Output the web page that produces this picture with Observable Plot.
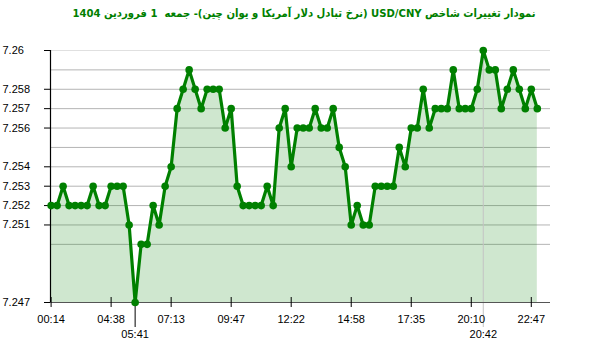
<!DOCTYPE html>
<html>
<head>
<meta charset="utf-8">
<script src="https://cdn.jsdelivr.net/npm/d3@7"></script>
<script src="https://cdn.jsdelivr.net/npm/@observablehq/plot@0.6"></script>
<style>
  html, body { margin: 0; padding: 0; background: #fff; }
  #title { height: 30px; line-height: 16px; padding-top: 7px; text-align: center; color: #008000; font: bold 11.2px "DejaVu Sans Condensed", "DejaVu Sans", sans-serif; direction: rtl; width: 600px; padding-left: 8px; box-sizing: border-box; white-space: pre; }
  #title span { line-height: 16px; }
  svg { display: block; }
</style>
</head>
<body>
<div id="title" dir="rtl">نمودار تغییرات شاخص USD/CNY (نرخ تبادل دلار آمریکا و یوان چین)- جمعه  1 فروردین 1404</div>
<div id="chart"></div>
<script>
// values, one per time step (equally spaced)
const values = [
  7.252, 7.252, 7.253, 7.252, 7.252, 7.252, 7.252, 7.253, 7.252, 7.252,
  7.253, 7.253, 7.253, 7.251, 7.247, 7.250, 7.250, 7.252, 7.251, 7.253,
  7.254, 7.257, 7.258, 7.259, 7.258, 7.257, 7.258, 7.258, 7.258, 7.256,
  7.257, 7.253, 7.252, 7.252, 7.252, 7.252, 7.253, 7.252, 7.256, 7.257,
  7.254, 7.256, 7.256, 7.256, 7.257, 7.256, 7.256, 7.257, 7.255, 7.254,
  7.251, 7.252, 7.251, 7.251, 7.253, 7.253, 7.253, 7.253, 7.255, 7.254,
  7.256, 7.256, 7.258, 7.256, 7.257, 7.257, 7.257, 7.259, 7.257, 7.257,
  7.257, 7.258, 7.260, 7.259, 7.259, 7.257, 7.258, 7.259, 7.258, 7.257,
  7.258, 7.257
];
const tickIndex = [0, 10, 20, 30, 40, 50, 60, 70, 80];
const tickLabels = ["00:14", "04:38", "07:13", "09:47", "12:22", "14:58", "17:35", "20:10", "22:47"];
const minIndex = [14];
const minLabel = ["05:41"];
const maxIndex = [72];
const maxLabel = ["20:42"];
const yTickValues = [7.26, 7.258, 7.257, 7.256, 7.254, 7.253, 7.252, 7.251, 7.247];
const yGridValues = [7.250, 7.251, 7.252, 7.253, 7.254, 7.255, 7.256, 7.257, 7.258, 7.259];
const yTop = [7.26];

const data = values.map((v, i) => ({i, v}));
const ticks = tickIndex.map((i, k) => ({i, label: tickLabels[k]}));
const specials = [...minIndex.map((i, k) => ({i, label: minLabel[k]})), ...maxIndex.map((i, k) => ({i, label: maxLabel[k]}))];

const W = 600, H = 322, mt = 20, mb = 50, ml = 50, mr = 50;
const frameH = H - mt - mb, frameW = W - ml - mr;

const chart = Plot.plot({
  width: W, height: H,
  marginTop: mt, marginBottom: mb, marginLeft: ml, marginRight: mr,
  style: {fontFamily: "'Liberation Sans', Arial, sans-serif", fontSize: "11px", color: "#000", background: "#fff"},
  x: {type: "linear", domain: [-0.1, 83.2], axis: null},
  y: {type: "linear", domain: [7.247, 7.26], axis: null},
  marks: [
    Plot.ruleY(yGridValues, {stroke: "#b4b4b4", strokeWidth: 1}),
    Plot.ruleY(yTop, {stroke: "#e0e0e0", strokeWidth: 1}),
    Plot.areaY(data, {x: "i", y1: () => 7.247, y2: "v", fill: "#1e8c1e", fillOpacity: 0.21, curve: "linear"}),
    // max vertical marker line
    Plot.ruleX(maxIndex, {stroke: "#c4c4c4", strokeWidth: 1, insetBottom: -25}),
    // min marker long tick
    Plot.ruleX(minIndex, {stroke: "#000", strokeWidth: 1, insetTop: frameH, insetBottom: -25}),
    // y axis line
    Plot.ruleX([-0.1], {stroke: "#000", strokeWidth: 1.2}),
    // y ticks, extending left of the axis
    Plot.ruleY(yTickValues, {stroke: "#000", strokeWidth: 1, insetLeft: -6, insetRight: frameW}),
    // bottom axis line
    Plot.ruleY([7.247], {stroke: "#555", strokeWidth: 1.2}),
    // x ticks crossing the axis
    Plot.ruleX(ticks, {x: "i", stroke: "#000", strokeWidth: 1, insetTop: frameH - 5, insetBottom: -5}),
    Plot.line(data, {x: "i", y: "v", stroke: "#008000", strokeWidth: 3.2, curve: "linear"}),
    Plot.dot(data, {x: "i", y: "v", r: 3.8, fill: "#008000", stroke: "none"}),
    Plot.text(ticks, {x: "i", text: "label", frameAnchor: "bottom", dy: 17, lineAnchor: "middle", fill: "#000"}),
    Plot.text(specials, {x: "i", text: "label", frameAnchor: "bottom", dy: 32, lineAnchor: "middle", fill: "#000"}),
    Plot.text(yTickValues, {y: d => d, text: d => String(d), frameAnchor: "left", textAnchor: "start", dx: -48, lineAnchor: "middle", fill: "#000"})
  ]
});
document.getElementById("chart").appendChild(chart);
</script>
</body>
</html>
